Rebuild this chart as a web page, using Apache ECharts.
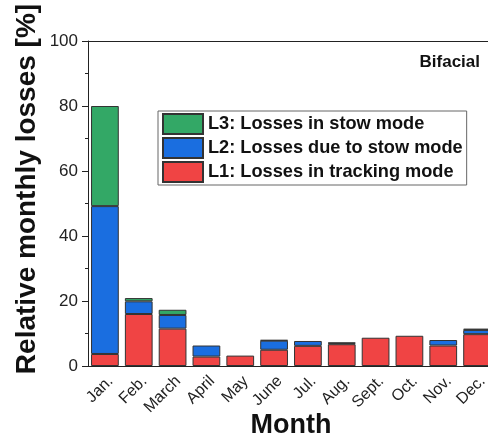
<!DOCTYPE html>
<html><head><meta charset="utf-8">
<script src="https://cdn.jsdelivr.net/npm/echarts@6/dist/echarts.min.js"></script>
<style>html,body{margin:0;padding:0;background:#fff}#c{width:488px;height:442px}</style>
</head><body><div id="c"></div>
<script>
const months = ['Jan.','Feb.','March','April','May','June','Jul.','Aug.','Sept.','Oct.','Nov.','Dec.'];
const L1 = [3.7, 16.0, 11.5, 2.9, 3.2, 5.0, 6.2, 6.7, 8.7, 9.3, 6.3, 9.8];
const L2 = [45.5, 3.9, 4.2, 3.4, 0, 2.8, 1.5, 0.3, 0, 0, 1.7, 1.3];
const L3 = [30.8, 1.0, 1.6, 0, 0, 0.2, 0, 0.2, 0, 0, 0, 0.4];
const yTicks = [0, 20, 40, 60, 80, 100];
const names = ['L1: Losses in tracking mode','L2: Losses due to stow mode','L3: Losses in stow mode'];
const colors = ['#f04444','#1a6ee0','#33a866'];
const font = 'Liberation Sans, Arial, sans-serif';
const nz = a => a.map(v => v === 0 ? '-' : v);

const chart = echarts.init(document.getElementById('c'), null, {renderer:'canvas'});
const axisCol = '#222';
chart.setOption({
  animation:false,
  grid:{left:88, top:41, width:406, height:325, outerBoundsMode:'none', containLabel:false},
  legend:{
    data:[names[2],names[1],names[0]],
    orient:'vertical', left:158, top:111,
    itemWidth:40, itemHeight:20, itemGap:2,
    padding:[2,4,2,4],
    borderColor:'#666', borderWidth:1,
    textStyle:{fontFamily:font, fontWeight:'bold', fontSize:18.2, lineHeight:20, color:'#111'},
    icon:'rect'
  },
  graphic:[
    {type:'text', right:8, top:54, style:{text:'Bifacial', font:'bold 17px '+font, fill:'#111'}},
    {type:'text', x:27, y:189, rotation:Math.PI/2,
     style:{text:'Relative monthly losses [%]', font:'bold 28px '+font, fill:'#111', align:'center', verticalAlign:'middle'}},
    {type:'text', x:291, y:426,
     style:{text:'Month', font:'bold 27px '+font, fill:'#111', align:'center', verticalAlign:'middle'}}
  ],
  xAxis:[
    {type:'category', data:months, position:'bottom',
     axisLine:{lineStyle:{color:axisCol,width:1}},
     axisTick:{alignWithLabel:true, length:7, lineStyle:{color:axisCol}},
     axisLabel:{rotate:45, fontSize:16, fontFamily:font, color:'#222', margin:7, interval:0, verticalAlign:'top'}},
    {type:'category', data:months, position:'bottom', gridIndex:0,
     axisLine:{show:false}, axisLabel:{show:false},
     axisTick:{alignWithLabel:false, length:3, lineStyle:{color:axisCol}}},
    {type:'category', data:months, position:'top',
     axisLine:{lineStyle:{color:axisCol,width:1}}, axisLabel:{show:false},
     axisTick:{inside:true, alignWithLabel:true, length:4, lineStyle:{color:axisCol}}},
    {type:'category', data:months, position:'top',
     axisLine:{show:false}, axisLabel:{show:false},
     axisTick:{inside:true, alignWithLabel:false, length:4, lineStyle:{color:axisCol}}}
  ],
  yAxis:{type:'value', min:yTicks[0], max:yTicks[yTicks.length-1], interval:20,
    axisLine:{show:true, lineStyle:{color:axisCol,width:1}},
    axisTick:{show:true, length:6, lineStyle:{color:axisCol}},
    minorTick:{show:true, splitNumber:2, length:3, lineStyle:{color:axisCol}},
    splitLine:{show:false},
    axisLabel:{fontSize:17, fontFamily:font, color:'#222', margin:10}},
  series:[L1,L2,L3].map((d,i)=>({
    name:names[i], type:'bar', stack:'s', data:nz(d), barCategoryGap:'18%',
    itemStyle:{color:colors[i], borderColor:'#333', borderWidth:1}
  }))
});
</script></body></html>
